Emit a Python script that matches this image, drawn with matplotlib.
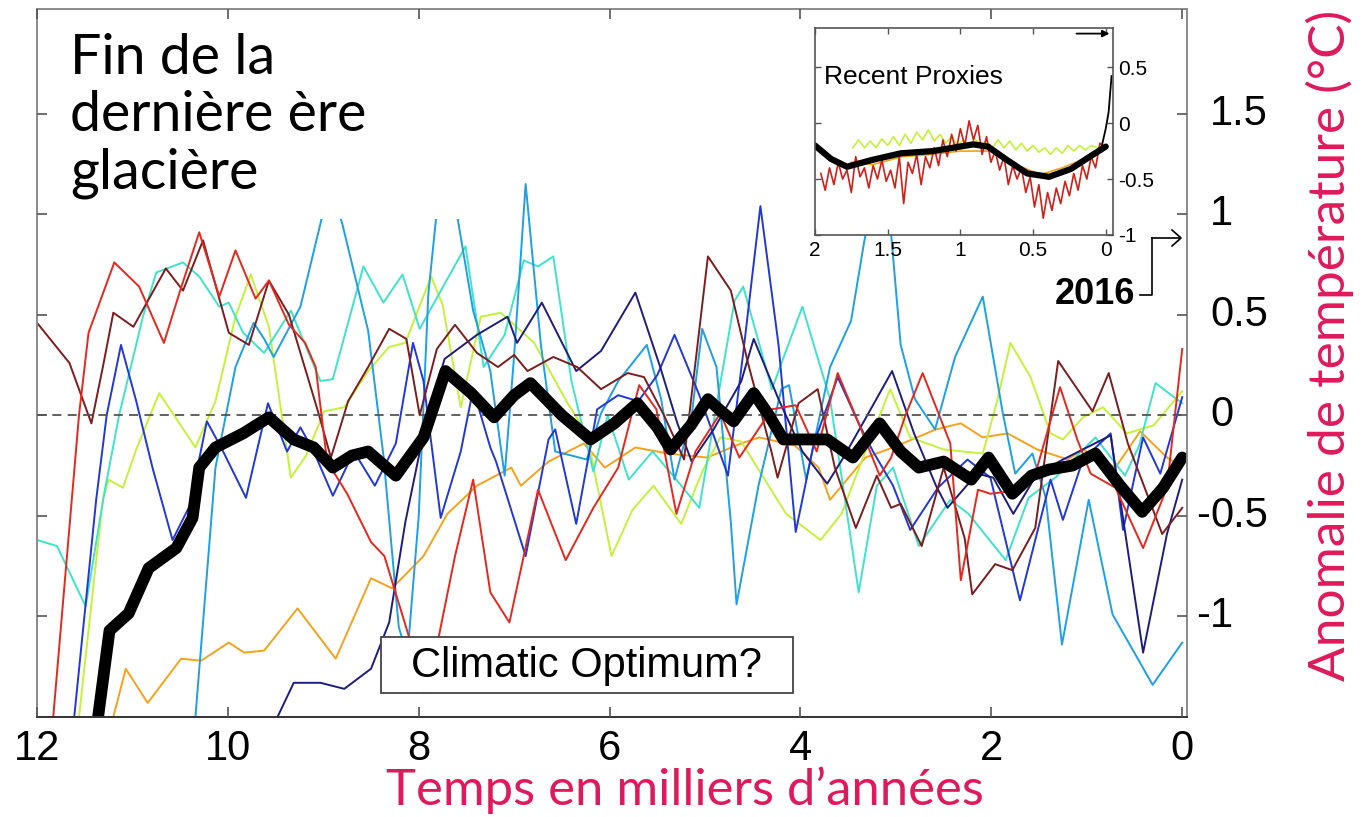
import matplotlib.pyplot as plt
from matplotlib.patches import Rectangle
from matplotlib.transforms import blended_transform_factory

plt.rcParams['font.family'] = 'Liberation Sans'

# main chart: (time in kyr before present, anomaly in degC)
red = [(11.83, -1.5), (11.56, 0.0), (11.46, 0.41), (11.19, 0.76), (10.93, 0.64), (10.67, 0.36),
       (10.50, 0.62), (10.30, 0.91), (10.09, 0.59), (9.92, 0.82), (9.71, 0.58), (9.57, 0.67),
       (9.36, 0.45), (9.19, 0.36), (9.08, 0.24), (8.96, -0.23), (8.75, -0.39), (8.50, -0.63),
       (8.36, -0.70), (8.09, -1.12), (7.95, -1.38), (7.79, -1.10), (7.62, -0.70), (7.43, -0.32),
       (7.25, -0.88), (7.05, -1.03), (6.75, -0.37), (6.46, -0.72), (6.17, -0.46), (5.91, -0.26),
       (5.69, 0.15), (5.51, 0.03), (5.30, -0.49), (5.10, -0.18), (4.84, 0.01), (4.64, -0.21),
       (4.30, 0.03), (4.05, 0.05), (3.83, -0.18), (3.61, 0.21), (3.39, -0.04), (3.17, -0.30),
       (3.05, -0.21), (2.90, 0.0), (2.72, 0.21), (2.43, -0.14), (2.32, -0.82), (2.14, -0.37),
       (2.01, -0.39), (1.66, -0.37), (1.52, -0.26), (1.28, 0.14), (1.10, -0.12), (0.96, -0.29),
       (0.70, -0.36), (0.41, -0.66), (0.16, -0.36), (0.0, 0.33)]

maroon = [(12.0, 0.46), (11.66, 0.26), (11.43, -0.04), (11.31, 0.24), (11.20, 0.51), (10.99, 0.44),
          (10.65, 0.73), (10.47, 0.62), (10.26, 0.87), (9.99, 0.41), (9.78, 0.35), (9.57, 0.67),
          (9.36, 0.50), (9.05, 0.01), (8.92, -0.21), (8.74, 0.07), (8.53, 0.24), (8.31, 0.43),
          (8.13, 0.38), (7.99, 0.0), (7.81, 0.33), (7.62, 0.45), (7.39, 0.31), (7.17, 0.24),
          (7.0, 0.30), (6.86, 0.22), (6.59, 0.29), (6.34, 0.24), (6.09, 0.13), (5.81, 0.21),
          (5.64, 0.19), (5.43, 0.0), (5.22, -0.22), (4.97, 0.79), (4.73, 0.62), (4.55, 0.26),
          (4.31, -0.17), (4.24, -0.31), (4.02, 0.06), (3.82, 0.13), (3.64, -0.26), (3.42, -0.56),
          (3.20, -0.30), (3.05, -0.46), (2.95, -0.44), (2.73, -0.65), (2.50, -0.26), (2.28, -0.61),
          (2.20, -0.89), (1.96, -0.74), (1.78, -0.77), (1.54, -0.56), (1.30, 0.27), (0.94, 0.02),
          (0.77, 0.21), (0.57, -0.14), (0.21, -0.59), (0.0, -0.46)]

turquoise = [(12.0, -0.62), (11.79, -0.65), (11.49, -0.95), (11.30, -0.40), (11.14, 0.0),
             (10.89, 0.49), (10.75, 0.71), (10.47, 0.76), (10.30, 0.69), (10.09, 0.54), (9.99, 0.56),
             (9.84, 0.41), (9.62, 0.31), (9.34, 0.52), (9.03, 0.17), (8.90, 0.18), (8.58, 0.74),
             (8.37, 0.56), (8.17, 0.70), (7.99, 0.43), (7.51, 0.84), (7.32, 0.24), (7.10, 0.40),
             (6.90, 0.77), (6.75, 0.74), (6.59, 0.79), (6.40, 0.17), (6.17, -0.28), (6.02, 0.0),
             (5.80, -0.32), (5.55, -0.18), (5.30, -0.32), (5.06, -0.46), (4.88, 0.05), (4.69, 0.57),
             (4.60, 0.64), (4.30, 0.13), (3.98, 0.54), (3.69, 0.08), (3.39, -0.88), (3.20, -0.35),
             (3.03, -0.26), (2.76, -0.65), (2.43, -0.42), (2.24, -0.49), (1.85, -0.72), (1.61, -0.41),
             (1.33, -0.31), (0.91, -0.11), (0.60, -0.30), (0.45, -0.15), (0.28, 0.16), (0.0, 0.06)]

light_blue = [(10.34, -1.5), (10.13, -0.26), (9.92, 0.24), (9.73, 0.46), (9.62, 0.38), (9.52, 0.29),
              (9.24, 0.54), (8.93, 1.15), (8.80, 0.95), (8.53, 0.42), (8.37, -0.20), (8.21, -1.05),
              (8.12, -1.20), (8.00, -0.50), (7.90, 0.60), (7.75, 1.30), (7.60, 1.0), (7.43, 0.52),
              (7.25, 0.22), (7.10, -0.30), (7.00, 0.30), (6.88, 1.15), (6.72, 0.35), (6.57, -0.18),
              (6.40, -0.20), (6.24, -0.22), (6.09, 0.01), (5.91, 0.17), (5.61, 0.35), (5.46, 0.08),
              (5.32, -0.32), (5.14, 0.0), (5.03, 0.43), (4.88, 0.24), (4.73, -0.53), (4.67, -0.94),
              (4.44, -0.35), (4.20, 0.13), (4.12, 0.15), (3.94, -0.32), (3.69, 0.24), (3.47, 0.47),
              (3.33, 0.87), (3.20, 1.15), (3.05, 0.90), (2.95, 0.35), (2.80, 0.08), (2.59, -0.07),
              (2.38, 0.29), (2.09, 0.59), (1.88, 0.01), (1.75, -0.29), (1.57, -0.19), (1.43, -0.41),
              (1.26, -1.14), (0.98, -0.42), (0.73, -0.99), (0.31, -1.34), (0.0, -1.13)]

blue = [(11.61, -1.5), (11.38, -0.42), (11.27, 0.0), (11.12, 0.35), (10.96, 0.07), (10.79, -0.26),
        (10.58, -0.62), (10.40, -0.45), (10.22, -0.03), (10.06, -0.17), (9.81, -0.41), (9.58, 0.06),
        (9.38, -0.18), (9.24, -0.06), (9.10, -0.18), (8.90, -0.40), (8.68, -0.18), (8.46, -0.35),
        (8.24, -0.14), (8.06, 0.36), (7.95, 0.17), (7.77, -0.51), (7.56, -0.18), (7.43, 0.13),
        (7.25, -0.16), (7.19, -0.23), (6.88, -0.70), (6.64, -0.12), (6.57, -0.07), (6.35, -0.54),
        (6.13, 0.03), (5.91, 0.10), (5.70, 0.07), (5.50, 0.20), (5.32, 0.40), (5.06, 0.10),
        (4.76, -0.30), (4.60, 0.31), (4.42, 1.04), (4.23, 0.35), (4.05, -0.58), (3.86, -0.14),
        (3.61, 0.19), (3.39, -0.04), (3.24, -0.18), (3.03, -0.35), (2.85, -0.57), (2.56, -0.36),
        (2.25, -0.22), (2.01, -0.31), (1.70, -0.92), (1.38, -0.32), (1.25, -0.52), (1.04, -0.22),
        (0.75, -0.09), (0.62, -0.57), (0.41, -0.11), (0.23, -0.29), (0.0, 0.09)]

navy = [(9.48, -1.5), (9.31, -1.33), (9.03, -1.33), (8.78, -1.36), (8.50, -1.26), (8.31, -1.03),
        (8.14, -0.53), (7.95, -0.09), (7.73, 0.28), (7.39, 0.40), (7.07, 0.49), (6.97, 0.36),
        (6.71, 0.56), (6.35, 0.22), (6.09, 0.32), (5.73, 0.61), (5.47, 0.24), (5.29, -0.04),
        (5.14, -0.23), (4.91, -0.07), (4.62, 0.17), (4.49, 0.38), (4.23, 0.08), (3.98, -0.18),
        (3.72, -0.34), (3.55, -0.21), (3.30, 0.0), (3.04, 0.22), (2.81, -0.09), (2.58, -0.35),
        (2.46, -0.46), (2.15, -0.29), (1.98, -0.31), (1.77, -0.49), (1.52, -0.29), (1.25, -0.22),
        (0.75, -0.10), (0.41, -1.18), (0.16, -0.59), (0.0, -0.32)]

yellow_green = [(11.56, -1.5), (11.31, -0.42), (11.25, -0.32), (11.10, -0.36), (10.96, -0.17),
                (10.72, 0.11), (10.55, -0.01), (10.34, -0.16), (10.13, 0.07), (9.92, 0.49),
                (9.76, 0.70), (9.57, 0.44), (9.34, -0.31), (9.18, -0.20), (8.99, 0.02), (8.78, 0.04),
                (8.53, 0.22), (8.31, 0.34), (8.14, 0.36), (8.01, 0.52), (7.87, 0.69), (7.75, 0.55),
                (7.56, 0.04), (7.35, 0.49), (7.14, 0.51), (6.79, 0.36), (6.44, 0.06), (6.24, -0.09),
                (5.98, -0.70), (5.76, -0.47), (5.54, -0.35), (5.25, -0.54), (5.03, -0.28),
                (4.84, -0.11), (4.62, -0.13), (4.44, -0.27), (4.15, -0.49), (3.79, -0.62),
                (3.57, -0.49), (3.32, -0.18), (3.06, 0.13), (2.85, -0.11), (2.50, -0.17),
                (2.09, -0.19), (1.94, 0.07), (1.80, 0.36), (1.59, 0.19), (1.38, -0.09), (1.25, -0.12),
                (1.04, -0.01), (0.83, 0.04), (0.58, -0.09), (0.30, -0.05), (0.0, 0.12)]

orange = [(11.20, -1.5), (11.07, -1.26), (10.84, -1.43), (10.49, -1.21), (10.28, -1.22), (9.99, -1.13),
          (9.83, -1.18), (9.62, -1.17), (9.27, -0.96), (8.87, -1.21), (8.50, -0.81), (8.28, -0.86),
          (7.95, -0.70), (7.70, -0.49), (7.39, -0.35), (7.03, -0.26), (6.93, -0.35), (6.64, -0.23),
          (6.27, -0.14), (6.05, -0.26), (5.73, -0.16), (5.39, -0.19), (4.98, -0.21), (4.62, -0.14),
          (4.43, -0.11), (4.06, -0.15), (3.81, -0.26), (3.69, -0.42), (3.32, -0.21), (3.03, -0.16),
          (2.58, -0.07), (2.32, -0.04), (2.09, -0.11), (1.83, -0.09), (1.52, -0.17), (1.20, -0.22),
          (1.04, -0.17), (0.70, -0.26), (0.44, -0.08), (0.16, -0.21), (0.05, -0.24)]

mean_curve = [(11.36, -1.5), (11.24, -1.07), (11.04, -0.985), (10.83, -0.76), (10.54, -0.66),
              (10.37, -0.51), (10.30, -0.26), (10.13, -0.16), (9.84, -0.09), (9.57, -0.01),
              (9.31, -0.12), (9.10, -0.16), (8.90, -0.26), (8.70, -0.20), (8.53, -0.18), (8.24, -0.30),
              (7.95, -0.11), (7.72, 0.22), (7.45, 0.11), (7.21, -0.01), (7.0, 0.10), (6.83, 0.16),
              (6.5, 0.0), (6.20, -0.12), (5.95, -0.04), (5.71, 0.06), (5.50, -0.06), (5.36, -0.17),
              (5.15, -0.05), (4.97, 0.08), (4.83, 0.02), (4.70, -0.03), (4.49, 0.11), (4.33, 0.0),
              (4.18, -0.12), (3.72, -0.12), (3.45, -0.21), (3.17, -0.04), (2.95, -0.18), (2.76, -0.26),
              (2.50, -0.23), (2.21, -0.32), (2.03, -0.21), (1.78, -0.39), (1.58, -0.30), (1.40, -0.27),
              (1.15, -0.25), (0.91, -0.19), (0.65, -0.35), (0.42, -0.48), (0.2, -0.36), (0.0, -0.21)]

xticks = [12, 10, 8, 6, 4, 2, 0]
yticks = [1.5, 1, 0.5, 0, -0.5, -1]
ytick_labels = ['1.5', '1', '0.5', '0', '-0.5', '-1']

# inset: last 2000 years
inset_red = [(1.96, -0.45), (1.93, -0.60), (1.90, -0.40), (1.87, -0.55), (1.84, -0.35), (1.81, -0.50),
             (1.78, -0.42), (1.75, -0.62), (1.72, -0.30), (1.69, -0.48), (1.66, -0.40), (1.63, -0.58),
             (1.60, -0.38), (1.57, -0.50), (1.54, -0.33), (1.51, -0.52), (1.48, -0.42), (1.45, -0.58),
             (1.42, -0.30), (1.39, -0.72), (1.36, -0.35), (1.33, -0.45), (1.30, -0.28), (1.27, -0.55),
             (1.24, -0.30), (1.21, -0.40), (1.18, -0.22), (1.15, -0.38), (1.12, -0.15), (1.09, -0.30),
             (1.06, -0.10), (1.03, -0.25), (1.00, -0.05), (0.97, -0.20), (0.94, 0.02), (0.91, -0.15),
             (0.88, -0.02), (0.85, -0.28), (0.82, -0.12), (0.79, -0.35), (0.76, -0.25), (0.73, -0.42),
             (0.70, -0.30), (0.67, -0.55), (0.64, -0.38), (0.61, -0.50), (0.58, -0.40), (0.55, -0.62),
             (0.52, -0.48), (0.49, -0.75), (0.46, -0.55), (0.43, -0.85), (0.40, -0.62), (0.37, -0.78),
             (0.34, -0.58), (0.31, -0.72), (0.28, -0.52), (0.25, -0.65), (0.22, -0.45), (0.19, -0.60),
             (0.16, -0.38), (0.13, -0.50), (0.10, -0.30), (0.07, -0.40), (0.04, -0.18), (0.01, -0.22)]

inset_green = [(1.74, -0.22), (1.70, -0.15), (1.66, -0.22), (1.62, -0.16), (1.58, -0.22), (1.54, -0.14),
               (1.50, -0.20), (1.46, -0.12), (1.42, -0.20), (1.38, -0.10), (1.34, -0.18), (1.30, -0.08),
               (1.26, -0.15), (1.22, -0.06), (1.18, -0.16), (1.14, -0.10), (1.10, -0.18), (1.06, -0.12),
               (1.02, -0.20), (0.98, -0.15), (0.94, -0.20), (0.90, -0.14), (0.86, -0.20), (0.82, -0.16),
               (0.78, -0.22), (0.74, -0.15), (0.70, -0.22), (0.66, -0.16), (0.62, -0.24), (0.58, -0.18),
               (0.54, -0.25), (0.50, -0.20), (0.46, -0.26), (0.42, -0.22), (0.38, -0.28), (0.34, -0.22),
               (0.30, -0.27), (0.26, -0.20), (0.22, -0.25), (0.18, -0.20), (0.14, -0.24), (0.10, -0.20),
               (0.06, -0.22)]

inset_orange = [(1.75, -0.35), (1.60, -0.37), (1.40, -0.30), (1.20, -0.28), (1.00, -0.25), (0.80, -0.25),
                (0.60, -0.38), (0.45, -0.46), (0.30, -0.40), (0.15, -0.32), (0.05, -0.25)]

inset_mean = [(2.0, -0.20), (1.89, -0.32), (1.78, -0.39), (1.61, -0.33), (1.41, -0.27), (1.19, -0.25),
              (0.91, -0.19), (0.81, -0.21), (0.69, -0.32), (0.54, -0.45), (0.39, -0.48), (0.24, -0.41),
              (0.11, -0.30), (0.0, -0.21)]

instrumental = [(0.03, -0.22), (0.0, -0.05), (-0.02, 0.10), (-0.04, 0.42)]

inset_xticks = [2, 1.5, 1, 0.5, 0]
inset_xlabels = ['2', '1.5', '1', '0.5', '0']
inset_yticks = [0.5, 0, -0.5, -1]
inset_ylabels = ['0.5', '0', '-0.5', '-1']

colors = {
    'orange': '#f5a21c',
    'yellow_green': '#c4f23a',
    'turquoise': '#3fe3c9',
    'light_blue': '#1e9fe6',
    'blue': '#2137d8',
    'navy': '#1d1d7e',
    'maroon': '#7c1d1d',
    'red': '#e5281e',
}
series = {'orange': orange, 'yellow_green': yellow_green, 'turquoise': turquoise,
          'light_blue': light_blue, 'blue': blue, 'navy': navy, 'maroon': maroon, 'red': red}

pink = '#e0195a'
title_font = 'Lato'

fig = plt.figure(figsize=(13.62, 8.17), dpi=100)
ax = fig.add_axes([37 / 1362, 1 - 717 / 817, 1150 / 1362, 708 / 817])

for name, pts in series.items():
    t, v = zip(*pts)
    ax.plot(t, v, color=colors[name], lw=1.4, zorder=2, solid_joinstyle='round')

ax.axhline(0, color='#555555', lw=1.3, ls=(0, (5, 3.5)), zorder=2.1)
t, v = zip(*mean_curve)
ax.plot(t, v, color='black', lw=8.5, solid_capstyle='round', solid_joinstyle='round', zorder=2.2)

ax.set_xlim(12.0, -0.05)
ax.set_ylim(-1.5, 2.02)
ax.set_axisbelow(False)

# white area behind the title text
ax.add_patch(Rectangle((0, 0.703), 0.368, 0.297, transform=ax.transAxes,
                       facecolor='white', edgecolor='none', zorder=2.4))

ax.set_xticks(xticks)
ax.set_xticklabels([str(x) for x in xticks], fontsize=30)
ax.set_yticks(yticks)
ax.tick_params(direction='in', top=True, right=True, length=7, width=1.2, color='#555555',
               labelleft=False, pad=9)
for side in ['left', 'top', 'right']:
    ax.spines[side].set_color('#8a8a8a')
    ax.spines[side].set_linewidth(1.4)
ax.spines['bottom'].set_color('#333333')
ax.spines['bottom'].set_linewidth(1.4)

trans = blended_transform_factory(ax.transAxes, ax.transData)
for val, lab in zip(yticks, ytick_labels):
    if lab.startswith('-'):
        ax.text(1.020, val, '-', transform=trans, ha='right', va='center', fontsize=30, clip_on=False)
        lab = lab[1:]
    ax.text(1.020, val, lab, transform=trans, ha='left', va='center', fontsize=30, clip_on=False)

# Climatic Optimum box
ax.add_patch(Rectangle((4.08, -1.38), 4.32, 0.28, facecolor='white', edgecolor='#444444',
                       lw=1.3, zorder=3))
ax.text(6.24, -1.245, 'Climatic Optimum?', ha='center', va='center', fontsize=30, zorder=4)

fig.text(70 / 1362, 1 - 33 / 817, 'Fin de la\ndernière ère\nglacière', ha='left', va='top',
         fontsize=40, family=title_font, linespacing=1.15)

fig.text(685 / 1362, 1 - 790 / 817, 'Temps en milliers d\u2019années', ha='center', va='center',
         fontsize=36.5, color=pink, family=title_font)
fig.text(1330 / 1362, 1 - 345 / 817, 'Anomalie de température (°C)', ha='center', va='center',
         rotation=90, fontsize=37, color=pink, family=title_font)

# inset
axin = fig.add_axes([815 / 1362, 1 - 235 / 817, 298 / 1362, 207 / 817])
axin.set_zorder(5)
axin.set_facecolor('white')
for pts, c in [(inset_green, colors['yellow_green']), (inset_orange, colors['orange']),
               (inset_red, '#d0201a')]:
    t, v = zip(*pts)
    axin.plot(t, v, color=c, lw=1.2)
t, v = zip(*inset_mean)
axin.plot(t, v, color='black', lw=4.5, solid_capstyle='round', solid_joinstyle='round')
t, v = zip(*instrumental)
axin.plot(t, v, color='black', lw=1.3)
axin.set_xlim(2.0, -0.05)
axin.set_ylim(-1.0, 0.85)
axin.set_xticks(inset_xticks)
axin.set_xticklabels(inset_xlabels, fontsize=15)
axin.set_yticks(inset_yticks)
axin.set_yticklabels(inset_ylabels, fontsize=15)
axin.tick_params(direction='in', top=True, right=True, left=True, labelleft=False, labelright=True,
                 length=4, width=1, color='#555555', pad=4)
for s in axin.spines.values():
    s.set_color('#555555')
    s.set_linewidth(1.2)
axin.text(1.94, 0.41, 'Recent Proxies', ha='left', va='center', fontsize=19)
axin.annotate('', xy=(-0.045, 0.80), xytext=(0.22, 0.80),
              arrowprops=dict(arrowstyle='-|>', color='black', lw=1.3, mutation_scale=10),
              annotation_clip=False)

# 2016 marker
fig.text(1135 / 1362, 1 - 295 / 817, '2016', ha='right', va='center', fontsize=26, weight='bold')
fig.add_artist(plt.Line2D([1140 / 1362, 1152 / 1362, 1152 / 1362], [1 - 295 / 817, 1 - 295 / 817, 1 - 238 / 817],
                          color='black', lw=1.2))
fig.add_artist(plt.Line2D([1152 / 1362, 1180 / 1362], [1 - 238 / 817, 1 - 238 / 817], color='black', lw=1.2))
fig.add_artist(plt.Line2D([1172 / 1362, 1181 / 1362, 1172 / 1362],
                          [1 - 230 / 817, 1 - 238 / 817, 1 - 246 / 817], color='black', lw=1.2))

fig.savefig('out.png', dpi=100)
